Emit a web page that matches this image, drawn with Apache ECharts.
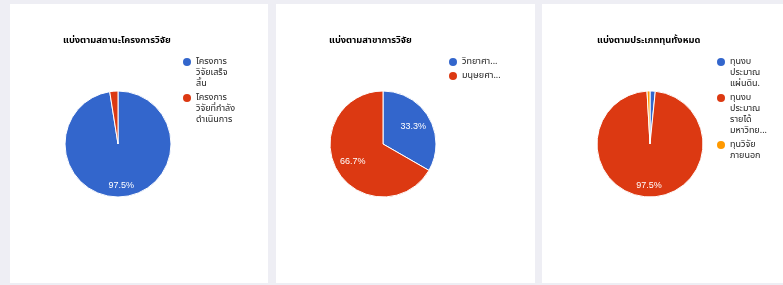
<!DOCTYPE html>
<html>
<head>
<meta charset="utf-8">
<script src="https://cdn.jsdelivr.net/npm/echarts@6/dist/echarts.min.js"></script>
<style>
  html, body { margin: 0; padding: 0; }
  body { width: 783px; height: 285px; background: #eeeef4; position: relative; overflow: hidden; }
  .panel { position: absolute; top: 4px; height: 279px; background: #fff; }
  #p1 { left: 10px; width: 258px; }
  #p2 { left: 276px; width: 259px; }
  #p3 { left: 542px; width: 241px; }
</style>
</head>
<body>
<div class="panel" id="p1"></div>
<div class="panel" id="p2"></div>
<div class="panel" id="p3"></div>
<script>
// ---- data ----
var statusTitle = 'แบ่งตามสถานะโครงการวิจัย';
var statusNames = ['โครงการวิจัยเสร็จสิ้น', 'โครงการวิจัยที่กำลังดำเนินการ'];
var statusLabels = ['โครงการ\nวิจัยเสร็จ\nสิ้น', 'โครงการ\nวิจัยที่กำลัง\nดำเนินการ'];
var statusValues = [97.5, 2.5];

var fieldTitle = 'แบ่งตามสาขาการวิจัย';
var fieldNames = ['วิทยาศาสตร์และเทคโนโลยี', 'มนุษยศาสตร์และสังคมศาสตร์'];
var fieldLabels = ['วิทยาศา...', 'มนุษยศา...'];
var fieldValues = [33.3, 66.7];

var fundTitle = 'แบ่งตามประเภททุนทั้งหมด';
var fundNames = ['ทุนงบประมาณแผ่นดิน', 'ทุนงบประมาณรายได้มหาวิทยาลัย', 'ทุนวิจัยภายนอก'];
var fundLabels = ['ทุนงบ\nประมาณ\nแผ่นดิน.', 'ทุนงบ\nประมาณ\nรายได้\nมหาวิทย...', 'ทุนวิจัย\nภายนอก'];
var fundValues = [1.6, 97.5, 0.9];

var colors = ['#3366cc', '#dc3912', '#ff9900'];
var FONT = "'Noto Sans Thai', 'Liberation Sans', Arial, sans-serif";
var LINE = 11;

// circle at the top of a tall box, so it sits next to the first text line
function dotPath(h) {
  return 'path://M0,0 M8,' + h + ' M4,1.5 A4,4 0 1 1 4,9.5 A4,4 0 1 1 4,1.5 Z';
}

function buildLegends(names, labels, left, top) {
  var y = top;
  return names.map(function (n, i) {
    var h = labels[i].split('\n').length * LINE;
    var leg = {
      left: left, top: y, padding: 0, orient: 'vertical',
      itemWidth: 8, itemHeight: h, itemGap: 0,
      icon: dotPath(h),
      data: [n],
      formatter: function () { return labels[i]; },
      itemStyle: { borderWidth: 0 },
      textStyle: { fontFamily: FONT, fontSize: 9, lineHeight: LINE, color: '#222' }
    };
    y += h + 3;
    return leg;
  });
}

function makeChart(el, title, names, labels, values, opt) {
  var chart = echarts.init(document.getElementById(el));
  var data = names.map(function (n, i) { return { name: n, value: values[i] }; });
  chart.setOption({
    animation: false,
    color: colors,
    title: {
      text: title, left: opt.titleLeft, top: 33, padding: 0,
      textStyle: { fontFamily: FONT, fontSize: 9.3, fontWeight: 'bold', color: '#000' }
    },
    legend: buildLegends(names, labels, opt.legendLeft, 52.5),
    series: [{
      type: 'pie',
      center: opt.center,
      radius: 53,
      startAngle: 90,
      clockwise: true,
      label: { show: false },
      labelLine: { show: false },
      itemStyle: { borderColor: '#fff', borderWidth: 1 },
      emphasis: { disabled: true },
      data: data
    }, {
      // transparent copy that only carries the percent labels
      type: 'pie',
      center: opt.center,
      radius: opt.labelRadius,
      startAngle: 90,
      silent: true,
      itemStyle: { color: 'transparent' },
      label: {
        show: true, position: 'inside', color: '#fff',
        fontFamily: "'Liberation Sans', Arial, sans-serif", fontSize: 9,
        formatter: function (p) { return p.percent < 5 ? '' : p.percent.toFixed(1) + '%'; }
      },
      labelLine: { show: false },
      data: data
    }]
  });
  return chart;
}

makeChart('p1', statusTitle, statusNames, statusLabels, statusValues,
  { center: [108, 140], titleLeft: 53, legendLeft: 173, labelRadius: 78 });
makeChart('p2', fieldTitle, fieldNames, fieldLabels, fieldValues,
  { center: [107, 140], titleLeft: 53, legendLeft: 173, labelRadius: 64 });
makeChart('p3', fundTitle, fundNames, fundLabels, fundValues,
  { center: [108, 140], titleLeft: 55, legendLeft: 175, labelRadius: 78 });
</script>
</body>
</html>
